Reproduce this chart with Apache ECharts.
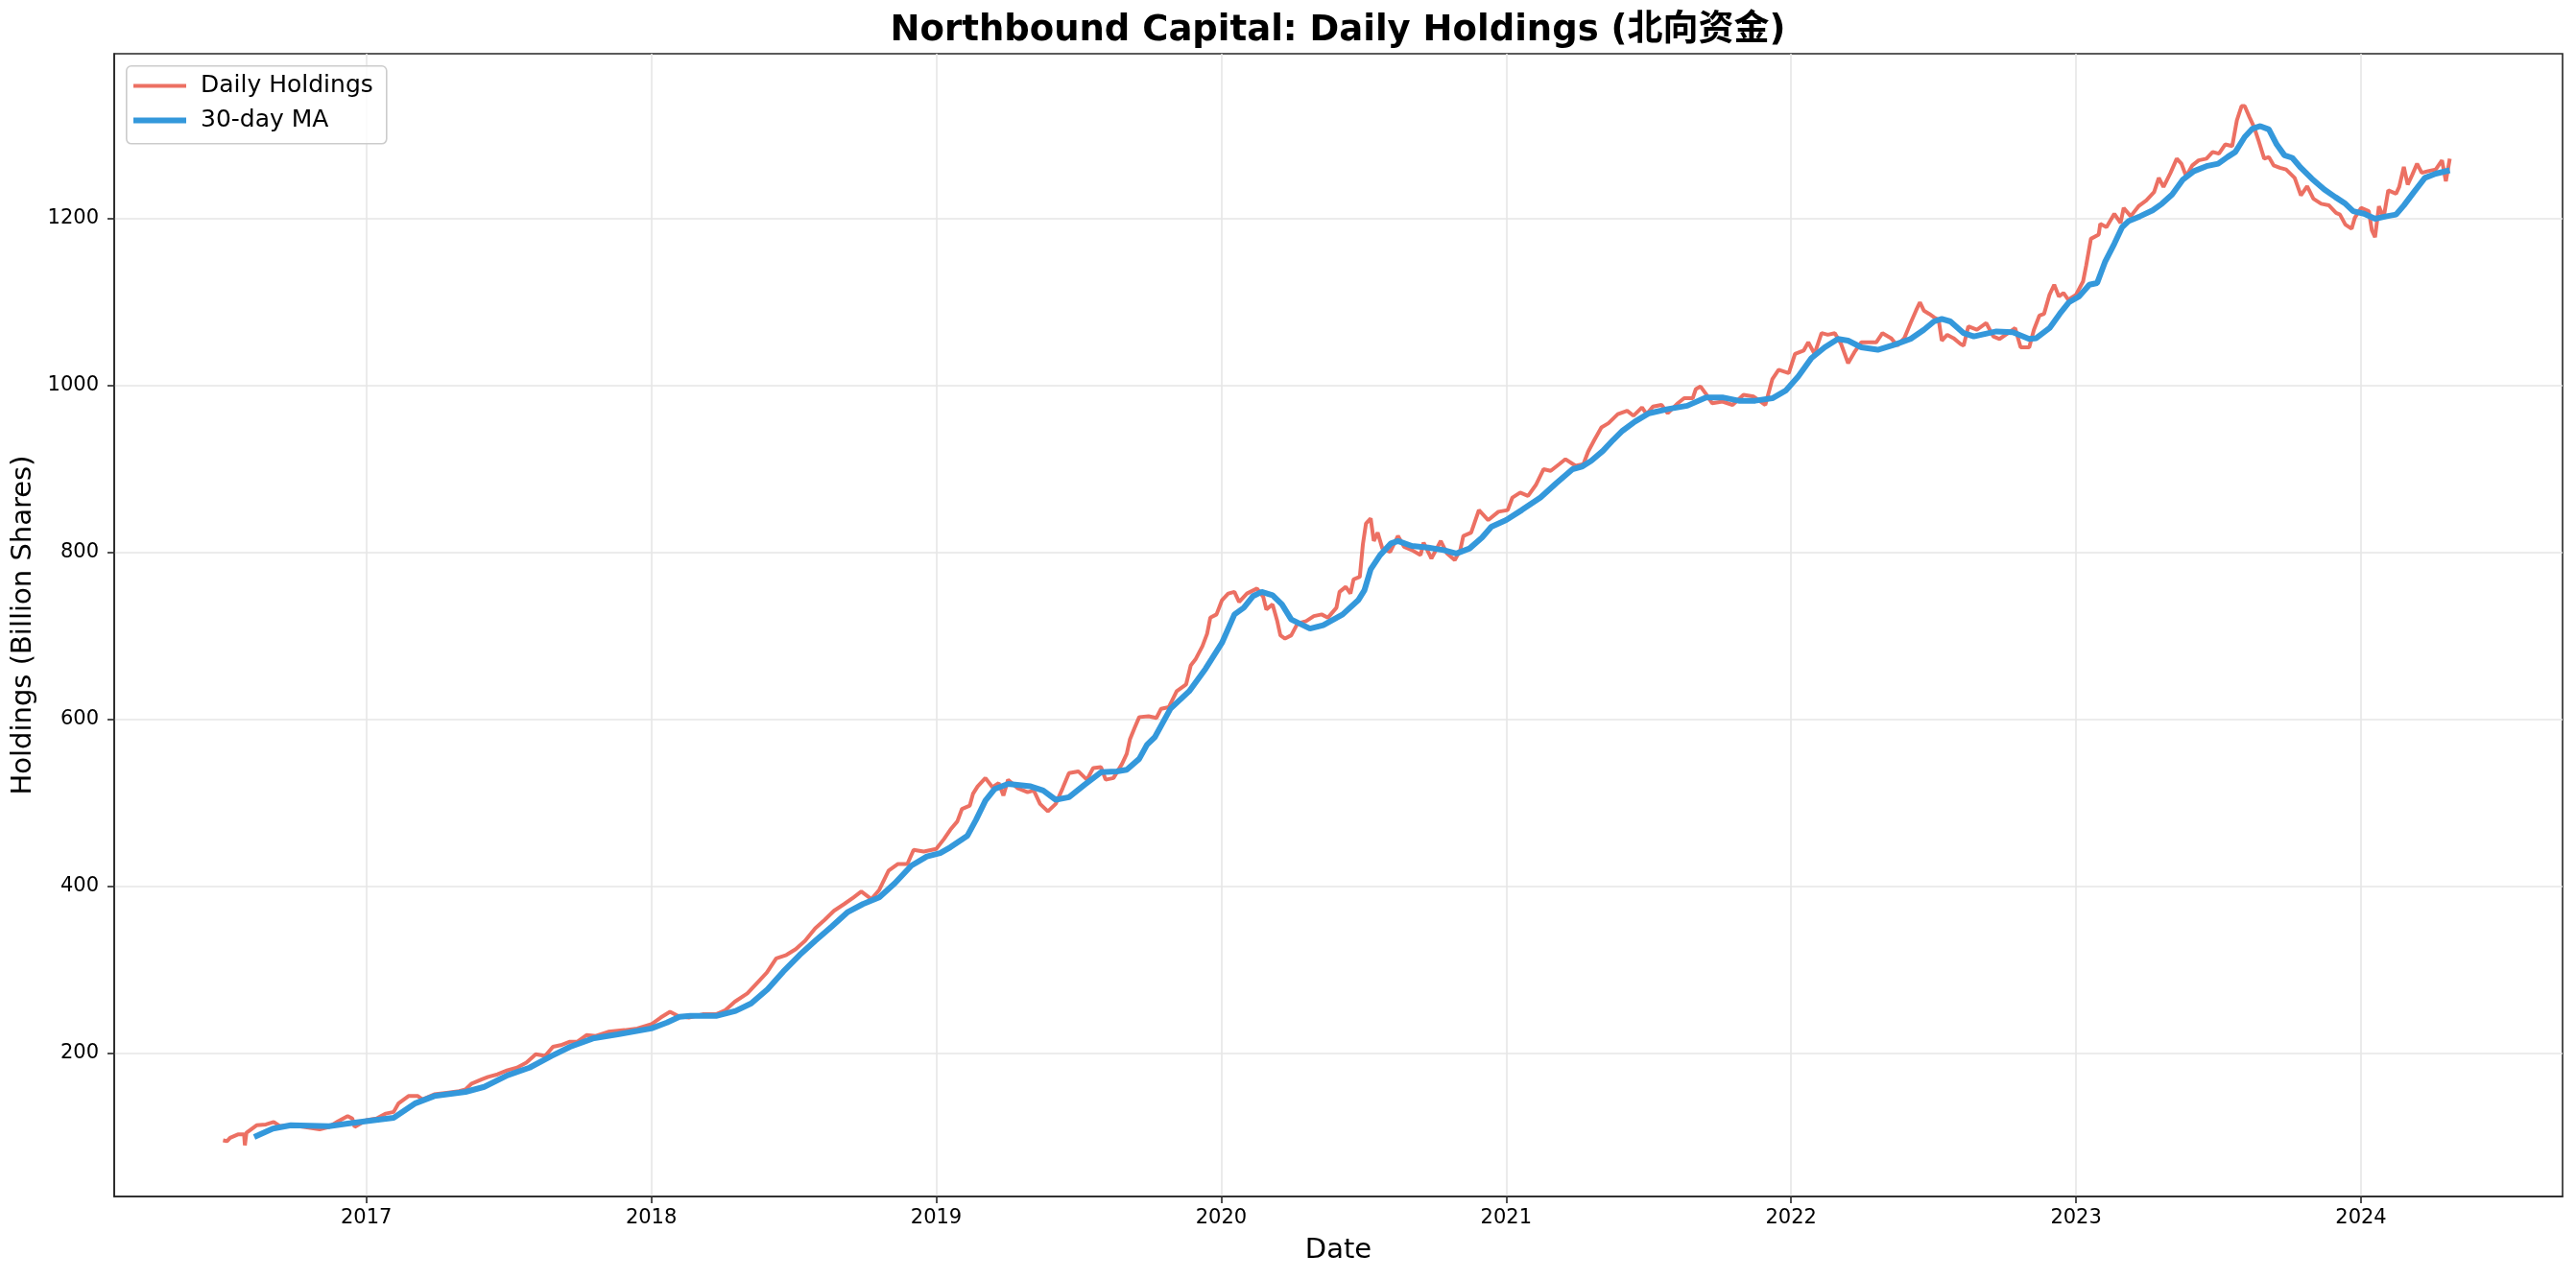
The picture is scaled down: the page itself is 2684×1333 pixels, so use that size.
<!DOCTYPE html>
<html lang="en">

<head>
    <meta charset="UTF-8" />
    <title>Northbound Capital</title>
    <script src="https://cdn.jsdelivr.net/npm/echarts@6/dist/echarts.min.js"></script>
    <style>
        html, body { margin: 0; padding: 0; background: #fff; }
        #main { width: 2684px; height: 1333px; }
    </style>
</head>

<body>
    <div id="main"></div>

    <script type="text/javascript">
        // Daily holdings (billion shares)
        const dailyDates = [
            "2016-07-01", "2016-07-06", "2016-07-10", "2016-07-20", "2016-07-28", "2016-07-29", "2016-07-31", "2016-08-13",
            "2016-08-25", "2016-09-04", "2016-09-12", "2016-09-26", "2016-10-13", "2016-11-02", "2016-11-14", "2016-11-26",
            "2016-12-08", "2016-12-14", "2016-12-17",
            "2017-01-01", "2017-01-14", "2017-01-26", "2017-02-05", "2017-02-11", "2017-02-24", "2017-03-08", "2017-03-14",
            "2017-03-29", "2017-04-14", "2017-04-30", "2017-05-08", "2017-05-16", "2017-05-29", "2017-06-06", "2017-06-18",
            "2017-07-01", "2017-07-13", "2017-07-25", "2017-08-06", "2017-08-18", "2017-08-28", "2017-09-07", "2017-09-18",
            "2017-09-28", "2017-10-10", "2017-10-22", "2017-11-07", "2017-11-28", "2017-12-14",
            "2018-01-01", "2018-01-13", "2018-01-25", "2018-02-04", "2018-02-18", "2018-03-08", "2018-03-25", "2018-04-06",
            "2018-04-18", "2018-05-04", "2018-05-17", "2018-05-29", "2018-06-10", "2018-06-23", "2018-07-05", "2018-07-17",
            "2018-07-30", "2018-08-11", "2018-08-23", "2018-09-05", "2018-09-17", "2018-09-27", "2018-10-10", "2018-10-20",
            "2018-11-01", "2018-11-13", "2018-11-25", "2018-12-03", "2018-12-16",
            "2019-01-01", "2019-01-11", "2019-01-19", "2019-01-28", "2019-02-03", "2019-02-13", "2019-02-17", "2019-02-23",
            "2019-03-05", "2019-03-14", "2019-03-22", "2019-03-28", "2019-04-03", "2019-04-15", "2019-04-28", "2019-05-06",
            "2019-05-14", "2019-05-24", "2019-06-03", "2019-06-12", "2019-06-20", "2019-07-02", "2019-07-13", "2019-07-21",
            "2019-07-31", "2019-08-06", "2019-08-16", "2019-08-27", "2019-09-02", "2019-09-06", "2019-09-12", "2019-09-18",
            "2019-09-30", "2019-10-10", "2019-10-16", "2019-10-26", "2019-11-05", "2019-11-17", "2019-11-23", "2019-11-29",
            "2019-12-08", "2019-12-14", "2019-12-18", "2019-12-26",
            "2020-01-02", "2020-01-10", "2020-01-18", "2020-01-24", "2020-02-03", "2020-02-16", "2020-02-24", "2020-02-28",
            "2020-03-07", "2020-03-13", "2020-03-17", "2020-03-23", "2020-03-31", "2020-04-08", "2020-04-19", "2020-04-29",
            "2020-05-09", "2020-05-17", "2020-05-28", "2020-06-01", "2020-06-09", "2020-06-15", "2020-06-19", "2020-06-27",
            "2020-07-01", "2020-07-05", "2020-07-11", "2020-07-15", "2020-07-20", "2020-07-26", "2020-08-05", "2020-08-15",
            "2020-08-23", "2020-09-02", "2020-09-13", "2020-09-17", "2020-09-27", "2020-10-09", "2020-10-17", "2020-10-27",
            "2020-11-03", "2020-11-07", "2020-11-17", "2020-11-27", "2020-12-09", "2020-12-22",
            "2021-01-03", "2021-01-09", "2021-01-19", "2021-01-29", "2021-02-08", "2021-02-18", "2021-02-27", "2021-03-10",
            "2021-03-18", "2021-03-31", "2021-04-10", "2021-04-16", "2021-04-24", "2021-05-03", "2021-05-12", "2021-05-24",
            "2021-06-05", "2021-06-13", "2021-06-24", "2021-06-30", "2021-07-08", "2021-07-19", "2021-07-27", "2021-08-09",
            "2021-08-17", "2021-08-28", "2021-09-01", "2021-09-07", "2021-09-14", "2021-09-22", "2021-10-05", "2021-10-18",
            "2021-11-01", "2021-11-14", "2021-11-29", "2021-12-08", "2021-12-16", "2021-12-29",
            "2022-01-06", "2022-01-17", "2022-01-23", "2022-01-31", "2022-02-09", "2022-02-17", "2022-02-26", "2022-03-06",
            "2022-03-15", "2022-03-23", "2022-04-01", "2022-04-11", "2022-04-20", "2022-04-28", "2022-05-09", "2022-05-17",
            "2022-05-26", "2022-06-03", "2022-06-10", "2022-06-15", "2022-06-20", "2022-06-27", "2022-07-03", "2022-07-09",
            "2022-07-13", "2022-07-20", "2022-07-28", "2022-08-06", "2022-08-10", "2022-08-16", "2022-08-27", "2022-09-08",
            "2022-09-17", "2022-09-25", "2022-10-06", "2022-10-15", "2022-10-22", "2022-11-02", "2022-11-08", "2022-11-15",
            "2022-11-21", "2022-11-28", "2022-12-04", "2022-12-10", "2022-12-16", "2022-12-22",
            "2023-01-01", "2023-01-10", "2023-01-14", "2023-01-20", "2023-01-30", "2023-02-01", "2023-02-09", "2023-02-19",
            "2023-02-27", "2023-03-03", "2023-03-12", "2023-03-22", "2023-04-01", "2023-04-11", "2023-04-17", "2023-04-23",
            "2023-05-02", "2023-05-10", "2023-05-16", "2023-05-22", "2023-05-30", "2023-06-07", "2023-06-17", "2023-06-25",
            "2023-07-03", "2023-07-11", "2023-07-20", "2023-07-26", "2023-08-01", "2023-08-05", "2023-08-11", "2023-08-17",
            "2023-08-23", "2023-08-30", "2023-09-05", "2023-09-11", "2023-09-19", "2023-09-27", "2023-10-08", "2023-10-16",
            "2023-10-24", "2023-11-01", "2023-11-11", "2023-11-21", "2023-11-30", "2023-12-05", "2023-12-12", "2023-12-20",
            "2023-12-24",
            "2024-01-01", "2024-01-11", "2024-01-15", "2024-01-19", "2024-01-24", "2024-01-30", "2024-02-05", "2024-02-15",
            "2024-02-19", "2024-02-25", "2024-03-01", "2024-03-07", "2024-03-13", "2024-03-19", "2024-03-27", "2024-04-06",
            "2024-04-14", "2024-04-19", "2024-04-24"
        ];
        const dailyValues = [
            96, 95, 99, 103, 103, 90, 105, 114,
            115, 118, 113, 114, 112, 109, 112, 119,
            125, 122, 112,
            120, 122, 128, 130, 140, 149, 149, 145,
            151, 153, 155, 157, 164, 169, 172, 175,
            180, 183, 189, 199, 197, 208, 210, 214,
            214, 222, 221, 226, 228, 230,
            235, 243, 250, 245, 243, 247, 247, 252,
            262, 272, 285, 297, 314, 318, 325, 335,
            350, 360, 371, 379, 387, 394, 385, 396,
            419, 427, 427, 444, 442,
            445, 457, 468, 478, 493, 497, 511, 520,
            530, 519, 524, 509, 528, 518, 513, 515,
            499, 490, 499, 518, 536, 538, 528, 542,
            543, 528, 530, 547, 559, 576, 590, 603,
            604, 602, 613, 615, 634, 642, 665, 672,
            688, 703, 722, 726,
            743, 751, 753, 741, 751, 757, 747, 732,
            738, 718, 701, 697, 701, 715, 718, 724,
            726, 722, 734, 753, 759, 751, 768, 771,
            810, 835, 841, 814, 824, 805, 801, 820,
            807, 803, 797, 812, 793, 814, 799, 791,
            803, 820, 824, 851, 839, 849,
            851, 866, 872, 868, 881, 900, 898, 906,
            912, 904, 906, 921, 935, 950, 955, 966,
            970, 964, 974, 966, 975, 977, 967, 979,
            985, 985, 996, 999, 990, 979, 981, 977,
            989, 987, 977, 1008, 1019, 1015,
            1038, 1042, 1052, 1038, 1063, 1061, 1063, 1050,
            1027, 1040, 1052, 1052, 1052, 1063, 1057, 1048,
            1057, 1075, 1090, 1100, 1090, 1086, 1082, 1079,
            1054, 1061, 1057, 1050, 1048, 1071, 1067, 1075,
            1059, 1056, 1063, 1069, 1046, 1046, 1067, 1084,
            1086, 1109, 1121, 1107, 1111, 1103,
            1109, 1125, 1144, 1176, 1181, 1194, 1190, 1206,
            1195, 1213, 1203, 1215, 1222, 1232, 1249, 1238,
            1255, 1272, 1266, 1251, 1264, 1270, 1272, 1280,
            1278, 1289, 1287, 1318, 1335, 1335, 1322, 1310,
            1293, 1272, 1274, 1264, 1261, 1259, 1249, 1228,
            1239, 1224, 1218, 1216, 1207, 1205, 1193, 1188,
            1201,
            1213, 1209, 1186, 1178, 1215, 1201, 1234, 1230,
            1238, 1262, 1241, 1253, 1266, 1255, 1257, 1259,
            1270, 1245, 1272
        ];

        // 30-day moving average
        const maDates = [
            "2016-08-10", "2016-09-03", "2016-09-26", "2016-11-14", "2016-12-08",
            "2017-01-01", "2017-02-05", "2017-03-04", "2017-03-29", "2017-05-08", "2017-06-01", "2017-07-01", "2017-07-29",
            "2017-08-26", "2017-09-19", "2017-10-18", "2017-11-19",
            "2018-01-01", "2018-01-21", "2018-02-06", "2018-02-20", "2018-03-25", "2018-04-19", "2018-05-09", "2018-05-30",
            "2018-06-19", "2018-07-10", "2018-07-30", "2018-08-20", "2018-09-09", "2018-09-29", "2018-10-20", "2018-11-09",
            "2018-11-30", "2018-12-20",
            "2019-01-06", "2019-01-19", "2019-02-10", "2019-02-21", "2019-03-05", "2019-03-17", "2019-04-03", "2019-05-02",
            "2019-05-18", "2019-06-03", "2019-06-20", "2019-07-10", "2019-07-31", "2019-08-20", "2019-09-02", "2019-09-18",
            "2019-09-28", "2019-10-08", "2019-10-28", "2019-11-21", "2019-12-12",
            "2020-01-02", "2020-01-18", "2020-01-30", "2020-02-11", "2020-02-22", "2020-03-07", "2020-03-19", "2020-03-31",
            "2020-04-24", "2020-05-11", "2020-06-05", "2020-06-25", "2020-07-03", "2020-07-11", "2020-07-23", "2020-08-06",
            "2020-08-15", "2020-09-02", "2020-09-23", "2020-10-13", "2020-10-29", "2020-11-15", "2020-12-01", "2020-12-13",
            "2021-01-01", "2021-01-21", "2021-02-14", "2021-03-06", "2021-03-27", "2021-04-08", "2021-04-20", "2021-05-05",
            "2021-05-18", "2021-05-30", "2021-06-15", "2021-07-03", "2021-07-27", "2021-08-21", "2021-09-14", "2021-10-05",
            "2021-10-26", "2021-11-16", "2021-12-08", "2021-12-25",
            "2022-01-10", "2022-01-27", "2022-02-13", "2022-03-02", "2022-03-15", "2022-04-01", "2022-04-22", "2022-05-13",
            "2022-06-03", "2022-06-20", "2022-07-03", "2022-07-13", "2022-07-24", "2022-08-10", "2022-08-23", "2022-09-21",
            "2022-10-12", "2022-11-02", "2022-11-11", "2022-11-28", "2022-12-11", "2022-12-23",
            "2023-01-05", "2023-01-18", "2023-01-28", "2023-02-07", "2023-02-19", "2023-03-01", "2023-03-09", "2023-03-24",
            "2023-04-09", "2023-04-21", "2023-05-04", "2023-05-18", "2023-06-01", "2023-06-17", "2023-07-02", "2023-07-14",
            "2023-07-24", "2023-08-05", "2023-08-15", "2023-08-25", "2023-09-05", "2023-09-15", "2023-09-25", "2023-10-05",
            "2023-10-16", "2023-10-30", "2023-11-15", "2023-11-29", "2023-12-12", "2023-12-22",
            "2024-01-05", "2024-01-19", "2024-02-03", "2024-02-15", "2024-02-25", "2024-03-09", "2024-03-23", "2024-04-06",
            "2024-04-24"
        ];
        const maValues = [
            100, 110, 114, 113, 116,
            119, 123, 140, 149, 154, 160, 174, 183,
            197, 208, 218, 223,
            230, 237, 244, 245, 245, 251, 260, 277,
            298, 318, 335, 352, 369, 379, 387, 404,
            425, 436,
            440, 447, 461, 480, 503, 517, 523, 520,
            515, 504, 507, 522, 537, 538, 540, 553,
            570, 579, 613, 634, 661,
            692, 726, 734, 748, 753, 749, 738, 720,
            709, 713, 726, 743, 755, 780, 797, 811,
            814, 808, 806, 803, 799, 805, 818, 831,
            839, 851, 866, 883, 900, 903, 910, 922,
            935, 946, 957, 967, 972, 976, 986, 986,
            982, 982, 985, 994,
            1011, 1033, 1046, 1056, 1054, 1046, 1043, 1049,
            1056, 1067, 1077, 1080, 1077, 1063, 1059, 1065,
            1064, 1056, 1057, 1069, 1086, 1100,
            1107, 1121, 1123, 1148, 1170, 1190, 1197, 1203,
            1210, 1218, 1229, 1247, 1257, 1263, 1266, 1274,
            1280, 1298, 1308, 1311, 1307, 1289, 1276, 1273,
            1261, 1248, 1235, 1226, 1218, 1209,
            1206, 1200, 1203, 1205, 1216, 1232, 1249, 1254,
            1258
        ];

        // Tick labels
        const yearTicks = [2017, 2018, 2019, 2020, 2021, 2022, 2023, 2024];
        const valueTicks = [200, 400, 600, 800, 1000, 1200];

        // date string -> fractional year, so that Jan 1 falls exactly on the year tick
        function toYear(s) {
            const t = Date.parse(s + "T00:00:00Z");
            const y = new Date(t).getUTCFullYear();
            const a = Date.UTC(y, 0, 1);
            const b = Date.UTC(y + 1, 0, 1);
            return y + (t - a) / (b - a);
        }

        const dailyData = dailyDates.map((d, i) => [toYear(d), dailyValues[i]]);
        const maData = maDates.map((d, i) => [toYear(d), maValues[i]]);

        const font = "'DejaVu Sans', 'Noto Sans CJK SC', sans-serif";
        const ink = "#262626";

        let options = {
            backgroundColor: "#ffffff",
            animation: false,
            textStyle: { fontFamily: font },
            title: {
                text: "Northbound Capital: Daily Holdings (北向资金)",
                // centred over the plot area, like the original
                left: 1389,
                textAlign: "center",
                top: 9,
                textStyle: { fontFamily: font, fontSize: 37, fontWeight: "bold", color: "#000" }
            },
            graphic: [{
                type: "rect",
                left: 131,
                top: 68,
                shape: { width: 271, height: 81, r: 5 },
                style: { fill: "rgba(255,255,255,0.8)", stroke: "#cccccc", lineWidth: 1.6 },
                z: 10
            }],
            legend: [
                {
                    data: [{ name: "Daily Holdings", icon: "rect" }],
                    left: 139, top: 77, padding: 0,
                    itemWidth: 55, itemHeight: 4,
                    textStyle: { fontFamily: font, fontSize: 25, color: "#000", padding: [0, 0, 0, 10] },
                    z: 11
                },
                {
                    data: [{ name: "30-day MA", icon: "rect" }],
                    left: 139, top: 113, padding: 0,
                    itemWidth: 55, itemHeight: 6,
                    textStyle: { fontFamily: font, fontSize: 25, color: "#000", padding: [0, 0, 0, 10] },
                    z: 11
                }
            ],
            grid: {
                left: 119, right: 14, top: 56, bottom: 86,
                show: true, borderColor: ink, borderWidth: 1.6
            },
            xAxis: {
                type: "value",
                min: 2016.1152,
                max: 2024.7073,
                minInterval: 1,
                maxInterval: 1,
                name: "Date",
                nameLocation: "middle",
                nameGap: 42,
                nameTextStyle: { fontFamily: font, fontSize: 29, color: "#000" },
                axisLine: { show: true, lineStyle: { color: ink, width: 1.6 } },
                axisTick: { show: true, length: 7, lineStyle: { color: ink, width: 1.6 }, customValues: yearTicks },
                axisLabel: {
                    fontFamily: font, fontSize: 21, color: "#000", margin: 12,
                    customValues: yearTicks,
                    formatter: (v) => String(Math.round(v))
                },
                splitLine: { show: true, lineStyle: { color: "#e6e6e6", width: 1.6 } }
            },
            yAxis: {
                type: "value",
                min: 28.7,
                max: 1397.7,
                minInterval: 200,
                maxInterval: 200,
                name: "Holdings (Billion Shares)",
                nameLocation: "middle",
                nameGap: 68,
                nameTextStyle: { fontFamily: font, fontSize: 29, color: "#000" },
                axisLine: { show: true, lineStyle: { color: ink, width: 1.6 } },
                axisTick: { show: true, length: 7, lineStyle: { color: ink, width: 1.6 }, customValues: valueTicks },
                axisLabel: {
                    fontFamily: font, fontSize: 21, color: "#000", margin: 16,
                    customValues: valueTicks,
                    formatter: (v) => String(Math.round(v))
                },
                splitLine: { show: true, lineStyle: { color: "#e6e6e6", width: 1.6 } }
            },
            series: [
                {
                    name: "Daily Holdings",
                    type: "line",
                    data: dailyData,
                    showSymbol: false,
                    symbol: "none",
                    color: "rgba(231,76,60,0.8)",
                    lineStyle: { color: "rgba(231,76,60,0.8)", width: 4 },
                    z: 2
                },
                {
                    name: "30-day MA",
                    type: "line",
                    data: maData,
                    showSymbol: false,
                    symbol: "none",
                    color: "#3498db",
                    lineStyle: { color: "#3498db", width: 6 },
                    z: 3
                }
            ]
        };

        // Initialise the echarts instance based on the prepared div
        let myChart = echarts.init(document.getElementById("main"));
        myChart.setOption(options);
    </script>
</body>

</html>
